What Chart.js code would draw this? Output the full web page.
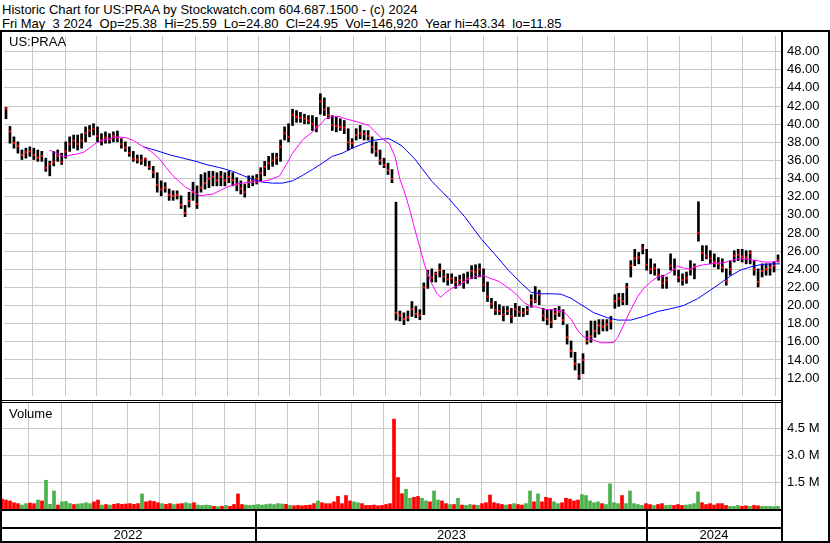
<!DOCTYPE html>
<html>
<head>
<meta charset="utf-8">
<script src="https://cdn.jsdelivr.net/npm/chart.js@4.4.1/dist/chart.umd.min.js"></script>
<style>
  body { margin: 0; background: #fff; }
  #wrap { position: relative; width: 830px; height: 543px; overflow: hidden; background: #fff;
          font-family: "Liberation Sans", Arial, sans-serif; }
  .txt { position: absolute; font-size: 13px; line-height: 14px; color: #000; white-space: pre; }
  .ln { position: absolute; background: #000; }
  canvas { position: absolute; left: 0; }
</style>
</head>
<body>
<div id="wrap">
  <div class="txt" id="head1" style="left:2px; top:3px;"></div>
  <div class="txt" id="head2" style="left:2px; top:17px;"></div>
  <canvas id="price" width="830" height="368" style="top:32px;"></canvas>
  <canvas id="volume" width="830" height="106" style="top:403px;"></canvas>
  <div class="txt" id="symbolLbl" style="left:9px; top:35px;"></div>
  <div class="txt" id="volLbl" style="left:9px; top:407px;"></div>
</div>
<script>
// ---- text ----
const headerLine1 = 'Historic Chart for US:PRAA by Stockwatch.com 604.687.1500 - (c) 2024';
const headerLine2 = 'Fri May  3 2024  Op=25.38  Hi=25.59  Lo=24.80  Cl=24.95  Vol=146,920  Year hi=43.34  lo=11.85';
const symbol = 'US:PRAA';
const volumeTitle = 'Volume';

// ---- price bars (roughly one bar every two sessions) ----
const highs = [
  41.85, 39.75, 38.6, 38.05, 37.15, 37.35, 37.5, 37.35, 37.15, 37.0,
  36.25, 35.9, 37.0, 37.15, 36.8, 38.05, 38.6, 38.8, 38.8, 38.95,
  39.7, 39.85, 40.05, 39.7, 38.95, 39.15, 38.95, 39.15, 39.25, 38.4,
  38.05, 37.5, 37.0, 36.6, 36.6, 36.25, 35.9, 35.35, 34.65, 33.75,
  33.55, 32.85, 32.65, 32.65, 32.1, 31.05, 32.5, 33.6, 33.2, 34.45,
  34.65, 34.8, 34.8, 34.65, 34.8, 34.65, 34.8, 34.65, 34.1, 33.75,
  33.4, 34.3, 34.3, 34.45, 35.2, 35.9, 36.45, 36.8, 36.8, 38.25,
  39.7, 40.05, 41.65, 41.5, 41.3, 41.1, 40.95, 40.95, 40.75, 43.35,
  42.9, 41.85, 40.95, 40.75, 40.6, 40.4, 39.5, 38.4, 39.5, 39.85,
  39.3, 39.3, 38.6, 38.05, 37.15, 36.25, 35.7, 35.0, 31.4, 19.4,
  19.2, 19.4, 20.45, 19.9, 19.55, 22.5, 23.9, 24.05, 23.7, 24.6,
  23.9, 23.5, 23.5, 23.15, 23.35, 23.5, 23.7, 24.4, 24.5, 24.6,
  24.05, 22.6, 20.8, 20.45, 20.1, 19.9, 19.9, 19.7, 20.25, 19.9,
  19.7, 19.9, 21.2, 22.1, 21.7, 19.7, 19.55, 19.55, 19.7, 19.9,
  19.55, 17.9, 16.1, 14.85, 13.6, 14.7, 17.2, 18.3, 18.3, 18.45,
  18.45, 18.45, 18.8, 21.2, 21.35, 21.35, 22.45, 24.95, 26.2, 25.85,
  26.75, 26.2, 25.15, 24.6, 24.05, 23.35, 23.15, 25.7, 25.15, 23.9,
  23.5, 23.7, 24.95, 24.6, 31.45, 26.6, 26.6, 26.05, 25.7, 25.3,
  25.15, 24.05, 24.95, 26.05, 26.2, 26.2, 26.05, 26.05, 24.95, 24.05,
  24.6, 24.6, 24.6, 24.8, 25.59
];
const lows = [
  40.6, 37.9, 37.35, 36.8, 36.1, 36.25, 36.45, 36.1, 35.9, 35.9,
  34.8, 34.3, 35.4, 35.9, 35.55, 36.25, 37.0, 37.35, 37.15, 37.35,
  38.05, 38.6, 38.8, 38.05, 37.7, 37.9, 37.9, 38.05, 38.05, 37.35,
  37.0, 36.45, 35.9, 35.7, 35.55, 35.4, 35.0, 34.1, 32.5, 32.1,
  32.5, 31.6, 31.6, 31.75, 30.7, 29.8, 30.85, 31.6, 30.7, 32.5,
  32.85, 33.0, 33.2, 33.2, 33.2, 33.2, 33.55, 33.2, 32.65, 32.3,
  31.95, 33.0, 33.2, 33.4, 33.75, 34.3, 35.0, 35.35, 35.55, 35.9,
  38.25, 38.05, 39.85, 40.2, 40.2, 40.05, 40.05, 39.3, 39.15, 41.1,
  40.95, 40.6, 39.3, 39.15, 39.3, 38.95, 37.15, 37.35, 38.25, 38.4,
  38.25, 38.25, 36.8, 36.45, 35.55, 35.2, 34.45, 33.55, 18.4, 18.3,
  17.9, 18.3, 18.8, 18.65, 18.45, 19.0, 21.9, 22.6, 22.6, 23.15,
  22.6, 22.25, 22.45, 21.9, 22.25, 21.9, 22.45, 22.95, 22.95, 23.15,
  21.55, 20.45, 19.7, 19.0, 19.0, 18.3, 19.0, 18.1, 18.8, 18.8,
  18.8, 19.0, 19.8, 20.3, 20.1, 18.3, 17.9, 17.55, 18.45, 18.8,
  17.9, 15.75, 14.3, 12.9, 11.85, 12.5, 15.75, 15.95, 16.5, 16.85,
  17.2, 17.2, 17.4, 19.7, 19.9, 20.1, 20.1, 23.15, 24.4, 24.6,
  25.7, 23.9, 23.5, 23.35, 22.8, 21.9, 21.9, 23.9, 23.35, 22.6,
  22.25, 22.45, 23.35, 22.95, 27.1, 24.95, 25.15, 24.6, 24.25, 24.05,
  23.7, 22.25, 23.35, 24.8, 24.95, 24.8, 24.6, 24.6, 23.35, 22.05,
  23.15, 23.35, 23.35, 23.7, 24.8
];
const closes = [
  41.7, 39.2, 37.9, 37.6, 36.6, 36.9, 37.0, 36.6, 36.3, 36.5,
  35.2, 35.6, 35.8, 36.5, 35.8, 37.0, 37.8, 38.2, 37.8, 38.2,
  39.0, 39.3, 39.5, 38.7, 38.2, 38.5, 38.3, 38.7, 38.5, 37.8,
  37.4, 36.8, 36.2, 36.1, 36.0, 36.2, 35.3, 34.7, 33.3, 32.8,
  33.0, 32.2, 32.1, 32.2, 31.1, 30.2, 31.5, 32.5, 31.2, 33.0,
  33.5, 34.0, 34.2, 33.8, 34.2, 33.8, 34.2, 33.8, 33.3, 32.9,
  32.5, 33.6, 33.8, 34.0, 34.6, 35.3, 35.7, 36.0, 36.3, 37.5,
  39.0, 38.6, 41.0, 40.8, 40.7, 40.6, 40.4, 40.0, 39.7, 42.5,
  41.6, 41.0, 39.9, 39.8, 39.7, 39.6, 38.0, 37.9, 38.8, 39.0,
  38.9, 38.7, 37.5, 37.0, 36.0, 35.5, 34.9, 34.0, 19.2, 18.9,
  18.5, 18.7, 19.6, 19.1, 18.9, 22.0, 23.3, 23.1, 23.5, 23.9,
  23.2, 22.9, 23.0, 22.6, 22.8, 22.6, 23.0, 23.8, 23.7, 24.0,
  22.3, 21.0, 20.2, 19.5, 19.4, 19.0, 19.4, 18.8, 19.6, 19.3,
  19.2, 19.5, 20.6, 20.5, 21.2, 18.9, 18.5, 18.2, 19.1, 19.3,
  18.4, 16.5, 15.0, 13.6, 12.2, 14.0, 16.1, 16.6, 17.2, 17.8,
  17.7, 17.9, 18.3, 20.5, 20.8, 20.5, 22.0, 24.4, 25.2, 25.3,
  26.3, 24.5, 24.0, 24.1, 23.4, 22.5, 22.8, 24.4, 24.0, 23.1,
  22.8, 23.0, 24.0, 24.3, 28.0, 25.8, 25.5, 25.2, 24.8, 24.6,
  24.2, 22.7, 24.0, 25.5, 25.6, 25.4, 25.3, 25.8, 24.0, 22.6,
  23.8, 24.0, 24.2, 24.4, 24.95
];
// volume per bar, millions of shares
const volumes = [
  0.55, 0.5, 0.45, 0.35, 0.3, 0.22, 0.3, 0.33, 0.3, 0.5,
  0.45, 1.6, 0.26, 1.0, 0.22, 0.4, 0.42, 0.3, 0.25, 0.28,
  0.3, 0.35, 0.3, 0.4, 0.5, 0.22, 0.25, 0.22, 0.26, 0.3,
  0.26, 0.28, 0.3, 0.26, 0.3, 0.84, 0.4, 0.45, 0.42, 0.35,
  0.3, 0.26, 0.3, 0.25, 0.28, 0.3, 0.35, 0.3, 0.35, 0.22,
  0.2, 0.22, 0.2, 0.15, 0.13, 0.15, 0.2, 0.15, 0.25, 0.84,
  0.25, 0.22, 0.2, 0.22, 0.25, 0.22, 0.25, 0.28, 0.25, 0.3,
  0.28, 0.26, 0.2, 0.18, 0.2, 0.18, 0.2, 0.22, 0.3, 0.45,
  0.35, 0.3, 0.3, 0.4, 0.7, 0.3, 0.75, 0.45, 0.4, 0.35,
  0.3, 0.2, 0.2, 0.22, 0.18, 0.2, 0.25, 0.3, 5.0, 1.75,
  0.85, 1.1, 0.6, 0.65, 0.7, 0.6, 0.45, 0.4, 1.0, 0.5,
  0.45, 0.3, 0.25, 0.25, 0.6, 0.22, 0.2, 0.25, 0.22, 0.2,
  0.3, 0.35, 0.78, 0.35, 0.3, 0.25, 0.22, 0.25, 0.3, 0.25,
  0.22, 0.3, 1.0, 0.4, 0.84, 0.4, 0.65, 0.6, 0.4, 0.3,
  0.35, 0.6, 0.55, 0.45, 0.5, 0.8, 0.75, 0.45, 0.35, 0.4,
  0.3, 0.25, 1.4, 0.35, 0.3, 0.75, 0.3, 1.0, 0.3, 0.25,
  0.2, 0.3, 0.25, 0.2, 0.25, 0.3, 0.2, 0.22, 0.2, 0.25,
  0.2, 0.22, 0.25, 0.3, 0.95, 0.35, 0.25, 0.3, 0.22, 0.3,
  0.3, 0.2, 0.15, 0.15, 0.2, 0.15, 0.18, 0.15, 0.2, 0.18,
  0.15, 0.15, 0.15, 0.13, 0.15
];

// ---- moving averages (bar position, value) ----
const maFastAt = [
  11, 12.75, 14.5, 16.25, 17.75, 19.5, 21.25, 22.75, 24.5, 26.25, 27.75, 30.25, 32, 33.75,
  35.25, 37, 38.75, 40.25, 42, 43.75, 45.25, 47, 48.75, 52, 55.25, 57.75, 60.25, 63.75,
  66.25, 68.75, 70.25, 72, 74.5, 77, 78.75, 80.25, 82, 83.75, 85.25, 87, 88.75, 91.25,
  92.75, 94.5, 96.25, 97.75, 99, 100, 101.25, 102.75, 104, 105.25, 107, 108.25, 109.25,
  110.25, 112, 113.75, 115.25, 117, 118.75, 120.25, 122, 123.75, 125.25, 127, 128.75,
  130.25, 132, 133.75, 135.25, 137, 138.75, 140.25, 142, 143.75, 145.25, 147, 149.5,
  151.25, 152.75, 153.75, 155.25, 157, 158.75, 160.25, 162, 163.75, 165.25, 167, 168.75,
  170.25, 172, 173.75, 175.25, 177, 178.75, 180.25, 182, 183.75, 185.25, 187, 188.75,
  190.25, 192, 194.5
];
const maFast = [
  37.15, 36.8, 36.4, 36.6, 36.7, 36.9, 37.45, 37.95, 38.25, 38.4, 38.6, 38.5, 38.2, 37.7,
  37.35, 36.8, 36.1, 35.2, 34.3, 33.6, 33.0, 32.6, 32.1, 32.3, 33.0, 33.4, 33.55, 33.65,
  33.85, 34.3, 35.4, 36.8, 38.25, 39.15, 39.85, 40.6, 40.85, 40.85, 40.6, 40.4, 40.2, 39.85,
  39.15, 38.4, 37.9, 36.45, 33.9, 32.7, 30.9, 28.4, 26.4, 24.4, 22.4, 21.35, 20.9,
  21.35, 21.9, 22.25, 22.7, 23.05, 23.25, 23.25, 22.95, 22.7, 22.25, 21.7, 21.0,
  20.3, 19.9, 19.8, 19.55, 19.55, 19.45, 19.3, 18.5, 17.2, 16.55, 16.3, 15.9,
  15.9, 15.95, 16.5, 17.9, 19.55, 21.0, 21.9, 22.6, 23.15, 23.25, 23.7, 24.35,
  24.15, 24.0, 24.35, 24.5, 24.6, 24.7, 24.7, 24.95, 25.15, 25.15, 25.05, 24.95,
  24.8, 24.8, 24.9
];
const maSlowAt = [
  34.5, 37.75, 41.25, 44.5, 47.75, 50.25, 53.75, 57, 59.5, 62, 64.5, 67, 69.5, 72, 74.5,
  77, 79.5, 82, 84.5, 87, 89.5, 92, 94.5, 96.25, 97.75, 99.5, 102.75, 107, 111.25,
  115.25, 119.5, 122.75, 126.25, 129.5, 132, 134.5, 137, 139.5, 142, 144.5, 147.75,
  151.25, 153.75, 157, 160.25, 163.75, 167, 170.25, 173.75, 177, 179.5, 182, 184.5,
  187, 189.5, 192, 194.5
];
const maSlow = [
  37.5, 37.1, 36.6, 36.25, 35.9, 35.55, 35.2, 34.8, 34.35, 33.9, 33.6, 33.5, 33.5, 33.75, 34.35,
  35.0, 35.7, 36.45, 36.8, 37.35, 37.8, 38.2, 38.35, 38.4, 38.05, 37.6, 36.15, 33.7, 31.8,
  29.8, 27.3, 25.7, 23.9, 22.45, 21.45, 21.3, 21.3, 21.25, 20.8, 20.1, 19.2,
  18.65, 18.4, 18.4, 18.8, 19.35, 19.65, 20.0, 20.75, 21.7, 22.45, 23.25, 23.9,
  24.25, 24.5, 24.6, 24.6
];

// ---- axes ----
const monthStarts = [
  6.6, 14.9, 22.7, 31.4, 39.25, 47.6, 55.6, 63.4, 71.3, 79.1, 87.25, 95.3,
  104.1, 111.8, 119.9, 128.5, 136.2, 144.9, 153, 161.2, 169.25, 177.4, 185.1, 193.25
];
const monthLabels = [
  '2022-06', '2022-07', '2022-08', '2022-09', '2022-10', '2022-11', '2022-12',
  '2023-01', '2023-02', '2023-03', '2023-04', '2023-05', '2023-06', '2023-07', '2023-08',
  '2023-09', '2023-10', '2023-11', '2023-12',
  '2024-01', '2024-02', '2024-03', '2024-04', '2024-05'
];
const priceTicks = [12, 14, 16, 18, 20, 22, 24, 26, 28, 30, 32, 34, 36, 38, 40, 42, 44, 46, 48];
const volumeTicks = [1.5, 3.0, 4.5];

const FONT = { family: '"Liberation Sans", Arial, sans-serif', size: 13 };
const GRID = '#c8c8c8';
const UP = '#4cb04c';
const DOWN = '#ff0000';
const FLAT = '#a0a0a0';

document.getElementById('head1').textContent = headerLine1;
document.getElementById('head2').textContent = headerLine2;
document.getElementById('symbolLbl').textContent = symbol;
document.getElementById('volLbl').textContent = volumeTitle;

// shared x axis: bar positions, month grid lines
function xAxis() {
  return {
    type: 'linear',
    min: -0.5,
    max: 194.75,
    offset: false,
    grid: { color: GRID, drawTicks: false, offset: false },
    border: { display: false },
    ticks: { display: false },
    afterBuildTicks: s => { s.ticks = monthStarts.map(v => ({ value: v })); },
    afterFit: s => { s.height = 0; s.paddingLeft = 0; s.paddingRight = 0; }
  };
}

function yAxis(min, max, ticks, fmt) {
  return {
    position: 'right',
    min: min,
    max: max,
    grid: { color: GRID, drawTicks: false },
    border: { display: false },
    ticks: { color: '#000', font: FONT, padding: 6, callback: fmt },
    afterBuildTicks: s => { s.ticks = ticks.map(v => ({ value: v })); },
    afterFit: s => { s.width = 49; s.paddingTop = 0; s.paddingBottom = 0; }
  };
}

const baseOptions = {
  responsive: false,
  animation: false,
  devicePixelRatio: 1,
  layout: { padding: 0 },
  plugins: { legend: { display: false }, tooltip: { enabled: false } }
};

// price panel
const priceChart = new Chart(document.getElementById('price'), {
  type: 'bar',
  data: {
    datasets: [
      {
        type: 'line', data: maFastAt.map((x, k) => ({ x, y: maFast[k] })),
        borderColor: '#ff00ff', borderWidth: 1, pointRadius: 0, tension: 0, order: 0
      },
      {
        type: 'line', data: maSlowAt.map((x, k) => ({ x, y: maSlow[k] })),
        borderColor: '#0000ff', borderWidth: 1, pointRadius: 0, tension: 0, order: 0
      },
      {
        type: 'line', data: closes.map((c, i) => ({ x: i, y: c })),
        showLine: false, pointStyle: 'rect', pointRadius: 1.5, borderWidth: 0,
        backgroundColor: '#ff0000', order: 1
      },
      {
        type: 'bar', data: lows.map((lo, i) => ({ x: i, y: [lo, highs[i]] })),
        backgroundColor: '#000', barThickness: 2, grouped: false, order: 2
      }
    ]
  },
  options: {
    ...baseOptions,
    scales: {
      x: xAxis(),
      y: yAxis(10.03, 49.72, priceTicks, v => v.toFixed(2))
    }
  }
});

// volume panel, coloured by close-to-close direction
const volColors = closes.map((c, i) =>
  i === 0 || c < closes[i - 1] ? DOWN : (c > closes[i - 1] ? UP : FLAT));

const volChart = new Chart(document.getElementById('volume'), {
  type: 'bar',
  data: {
    datasets: [{
      data: volumes.map((v, i) => ({ x: i, y: v })),
      backgroundColor: volColors,
      barThickness: 3,
      grouped: false
    }]
  },
  options: {
    ...baseOptions,
    scales: {
      x: xAxis(),
      y: yAxis(0, 5.9, volumeTicks, v => v.toFixed(1) + ' M')
    }
  }
});

// frame lines and the year strip under the volume panel
const wrap = document.getElementById('wrap');
function line(l, t, w, h) {
  const d = document.createElement('div');
  d.className = 'ln';
  d.style.cssText = `left:${l}px;top:${t}px;width:${w}px;height:${h}px;`;
  wrap.appendChild(d);
}

const xs = volChart.scales.x;
const plotRight = Math.round(volChart.chartArea.right);

line(0, 30, 830, 2);            // under the header
line(0, 30, 2, 513);            // left edge
line(plotRight, 30, 2, 513);    // right edge of plots
line(828, 30, 2, 513);          // outer right edge
line(0, 400, plotRight, 1);     // double line between panels
line(0, 402, plotRight, 1);
line(0, 509, plotRight, 2);     // year strip
line(0, 527, plotRight, 2);
line(0, 541, 830, 2);

const cuts = [0];
const years = [monthLabels[0].slice(0, 4)];
monthLabels.forEach((m, k) => {
  if (m.endsWith('-01')) {
    cuts.push(Math.round(xs.getPixelForValue(monthStarts[k])));
    years.push(m.slice(0, 4));
  }
});
cuts.push(plotRight);

cuts.slice(1, -1).forEach(c => line(c - 1, 509, 2, 33));
years.forEach((y, j) => {
  const d = document.createElement('div');
  d.className = 'txt';
  d.textContent = y;
  d.style.cssText = `left:${cuts[j]}px;top:528px;width:${cuts[j + 1] - cuts[j]}px;text-align:center;`;
  wrap.appendChild(d);
});
</script>
</body>
</html>
